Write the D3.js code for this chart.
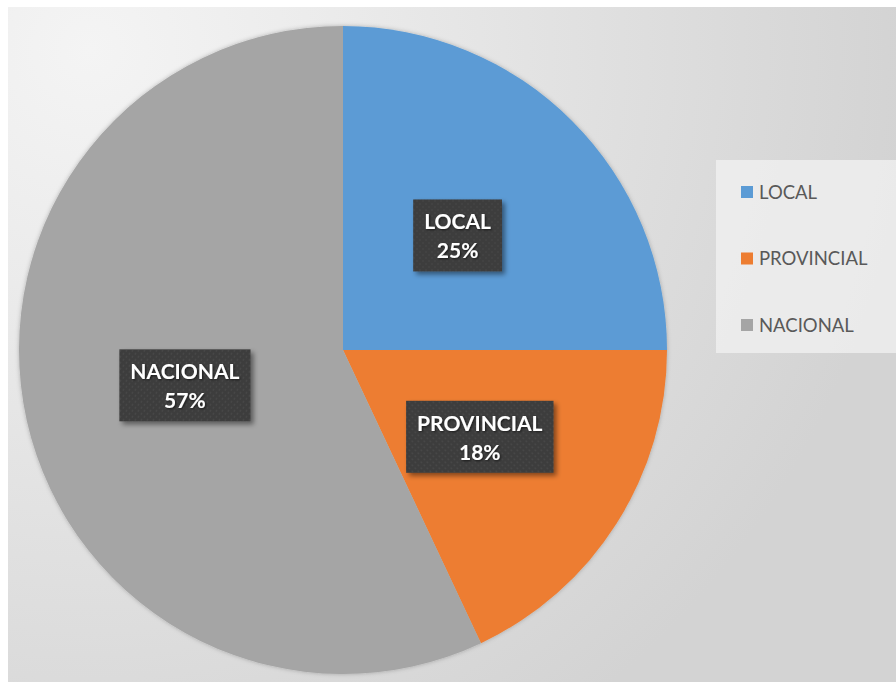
<!DOCTYPE html>
<html>
<head>
<meta charset="utf-8">
<script src="https://cdn.jsdelivr.net/npm/d3@7"></script>
<style>
html,body{margin:0;padding:0;background:#fff;}
svg{display:block;}
</style>
</head>
<body>
<svg id="chart" width="896" height="682"></svg>
<script>
const categories = ["LOCAL", "PROVINCIAL", "NACIONAL"];
const values = [25, 18, 57];
const percentLabels = ["25%", "18%", "57%"];
const colors = ["#5b9bd5", "#ed7d31", "#a5a5a5"];

const svg = d3.select("#chart");
const W = 896, H = 682;
const defs = svg.append("defs");

const bg = defs.append("radialGradient").attr("id", "bg")
  .attr("gradientUnits", "userSpaceOnUse")
  .attr("cx", 90).attr("cy", 50).attr("r", 820);
bg.append("stop").attr("offset", "0").attr("stop-color", "#f4f4f4");
bg.append("stop").attr("offset", "0.3").attr("stop-color", "#ebebeb");
bg.append("stop").attr("offset", "1").attr("stop-color", "#d3d3d3");

const pat = defs.append("pattern").attr("id", "dots")
  .attr("patternUnits", "userSpaceOnUse").attr("width", 6).attr("height", 6);
pat.append("rect").attr("width", 6).attr("height", 6).attr("fill", "#3c3c3c");
pat.append("circle").attr("cx", 1.5).attr("cy", 1.5).attr("r", 1).attr("fill", "#4a4a4a");
pat.append("circle").attr("cx", 4.5).attr("cy", 4.5).attr("r", 1).attr("fill", "#4a4a4a");

const shadow = defs.append("filter").attr("id", "shadow")
  .attr("x", "-20%").attr("y", "-20%").attr("width", "150%").attr("height", "150%");
shadow.append("feDropShadow").attr("dx", 3).attr("dy", 3).attr("stdDeviation", 2.5)
  .attr("flood-color", "#000").attr("flood-opacity", 0.45);

const pieShadow = defs.append("filter").attr("id", "pieShadow")
  .attr("x", "-10%").attr("y", "-10%").attr("width", "120%").attr("height", "120%");
pieShadow.append("feDropShadow").attr("dx", 0).attr("dy", 0).attr("stdDeviation", 2)
  .attr("flood-color", "#000").attr("flood-opacity", 0.25);

const textShadow = defs.append("filter").attr("id", "textShadow")
  .attr("x", "-10%").attr("y", "-20%").attr("width", "130%").attr("height", "150%");
textShadow.append("feDropShadow").attr("dx", 1).attr("dy", 1).attr("stdDeviation", 0.8)
  .attr("flood-color", "#000").attr("flood-opacity", 0.6);

// background
svg.append("rect").attr("x", 8).attr("y", 7).attr("width", W - 8).attr("height", H - 7)
  .attr("fill", "url(#bg)");

// pie
const cx = 343, cy = 350, R = 324;
const pie = d3.pie().sort(null).value(d => d.value);
const data = categories.map((c, i) => ({ name: c, value: values[i], pct: percentLabels[i], color: colors[i] }));
const arcs = pie(data);
const arc = d3.arc().innerRadius(0).outerRadius(R);
const labelArc = d3.arc().innerRadius(R / 2).outerRadius(R / 2);

const g = svg.append("g").attr("transform", `translate(${cx},${cy})`);
g.append("g").attr("filter", "url(#pieShadow)")
  .selectAll("path").data(arcs).join("path")
  .attr("d", arc).attr("fill", d => d.data.color);

// labels
const lg = g.selectAll("g.lbl").data(arcs).join("g").attr("class", "lbl")
  .attr("transform", d => {
    const [x, y] = labelArc.centroid(d);
    return `translate(${x},${y})`;
  });

lg.each(function(d) {
  const sel = d3.select(this);
  const t = sel.append("text")
    .attr("text-anchor", "middle")
    .attr("font-family", "Lato, 'Open Sans', sans-serif")
    .attr("font-weight", "bold")
    .attr("font-size", 21)
    .attr("fill", "#ffffff")
    .attr("filter", "url(#textShadow)");
  t.append("tspan").attr("x", 0).attr("y", -6).text(d.data.name);
  t.append("tspan").attr("x", 0).attr("y", 23).text(d.data.pct);
  const bb = t.node().getBBox();
  const padX = 11;
  sel.insert("rect", "text")
    .attr("x", bb.x - padX).attr("y", -36)
    .attr("width", bb.width + 2 * padX).attr("height", 72)
    .attr("fill", "url(#dots)")
    .attr("filter", "url(#shadow)");
});

// legend
const legX = 716, legY = 160;
svg.append("rect").attr("x", legX).attr("y", legY).attr("width", W - legX).attr("height", 193)
  .attr("fill", "#f0f0f0").attr("opacity", 0.8);
const leg = svg.selectAll("g.leg").data(data).join("g").attr("class", "leg")
  .attr("transform", (d, i) => `translate(${legX + 25},${legY + 32 + i * 66.5})`);
leg.append("rect").attr("x", 0).attr("y", -6).attr("width", 12).attr("height", 12)
  .attr("fill", d => d.color);
leg.append("text").attr("x", 18).attr("y", 0).attr("dy", "0.36em")
  .attr("font-family", "Lato, 'Open Sans', sans-serif")
  .attr("font-size", 18.5).attr("fill", "#595959")
  .text(d => d.name);
</script>
</body>
</html>
